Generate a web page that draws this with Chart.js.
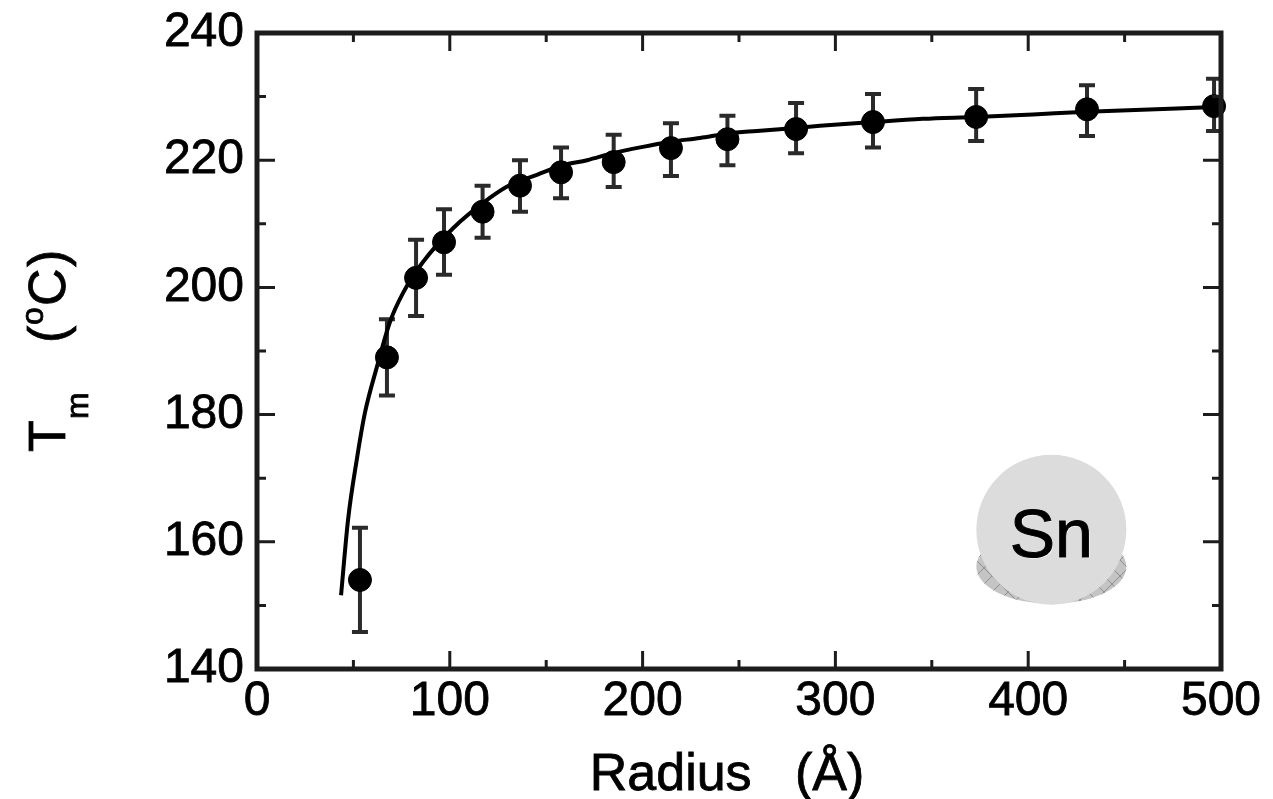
<!DOCTYPE html>
<html>
<head>
<meta charset="utf-8">
<title>Sn melting temperature vs radius</title>
<script src="https://cdn.jsdelivr.net/npm/chart.js@4"></script>
<style>
    html, body { margin: 0; padding: 0; background: #fff; }
    canvas { display: block; }
</style>
</head>
<body>
<canvas id="chart" width="1273" height="799"></canvas>
<script>
// Data
const radius = [53.4, 67.4, 82.5, 97, 117, 136.4, 157.7, 185, 214.7, 244, 279.6, 319.5, 373, 430.5, 496.4];
const tm = [154, 189, 201.5, 207.1, 211.9, 216, 218.1, 219.7, 221.9, 223.3, 224.9, 226, 226.8, 228, 228.5];
const errHigh = [162.2, 195, 207.5, 212.3, 216, 220, 222, 224, 225.8, 227, 229, 230.4, 231.2, 231.8, 232.8];
const errLow = [145.8, 183, 195.5, 202, 207.8, 211.9, 214, 215.8, 217.5, 219.2, 221.1, 222, 223, 223.8, 224.6];

const fitRadius = [43.6, 47.2, 51.9, 56, 62.2, 69, 75.7, 85.6, 101.7, 120.9, 131.2, 145.2, 158.7, 171.2, 184.6, 200.2, 214.7, 229.8, 244.3, 259.3, 280.1, 292, 319.5, 345.4, 373, 402.5, 430.5, 500];
const fitTm = [151.6, 163.4, 173.2, 180.3, 187.5, 194.6, 199.1, 203.8, 209.3, 214.1, 216.1, 217.7, 219.2, 220, 221.1, 222.1, 222.9, 223.5, 224.2, 224.6, 225.1, 225.4, 226, 226.5, 226.8, 227.2, 227.6, 228.4];

const xTicks = [0, 100, 200, 300, 400, 500];
const yTicks = [140, 160, 180, 200, 220, 240];

const xTitle = 'Radius   (Å)';
const insetLabel = 'Sn';
const insetCenter = [412, 161.9];

const FONT = '"Liberation Sans", Arial, sans-serif';
const INK = '#1c1c1c';

// Grey diagonal cross hatch for the droplet's base
function makeHatch(ctx) {
    const tile = document.createElement('canvas');
    tile.width = 16;
    tile.height = 16;
    const t = tile.getContext('2d');
    t.fillStyle = '#c4c4c4';
    t.fillRect(0, 0, 16, 16);
    t.strokeStyle = '#8e8e8e';
    t.lineWidth = 1;
    t.beginPath();
    t.moveTo(0, 0);
    t.lineTo(16, 16);
    t.moveTo(16, 0);
    t.lineTo(0, 16);
    t.stroke();
    return ctx.createPattern(tile, 'repeat');
}

// Inset drawing and error bars, behind the data
const insetPlugin = {
    id: 'inset',
    beforeDatasetsDraw(chart) {
        const { ctx, scales } = chart;
        const { x, y } = scales;
        const cx = x.getPixelForValue(insetCenter[0]);
        const cy = y.getPixelForValue(insetCenter[1]);
        ctx.save();
        ctx.fillStyle = makeHatch(ctx);
        ctx.beginPath();
        ctx.ellipse(cx, cy + 37, 75, 37, 0, 0, Math.PI * 2);
        ctx.fill();
        ctx.fillStyle = '#dcdcdc';
        ctx.beginPath();
        ctx.arc(cx, cy, 75, 0, Math.PI * 2);
        ctx.fill();
        ctx.font = `68px ${FONT}`;
        ctx.textAlign = 'center';
        ctx.textBaseline = 'alphabetic';
        ctx.fillStyle = '#fff';
        ctx.fillText(insetLabel, cx + 1, cy + 28);
        ctx.fillStyle = '#000';
        ctx.strokeStyle = '#000';
        ctx.lineWidth = 1;
        ctx.fillText(insetLabel, cx, cy + 27);
        ctx.strokeText(insetLabel, cx, cy + 27);

        ctx.strokeStyle = '#2a2a2a';
        ctx.lineWidth = 4;
        radius.forEach((r, i) => {
            const px = x.getPixelForValue(r);
            const hi = y.getPixelForValue(errHigh[i]);
            const lo = y.getPixelForValue(errLow[i]);
            ctx.beginPath();
            ctx.moveTo(px, hi);
            ctx.lineTo(px, lo);
            ctx.moveTo(px - 8, hi);
            ctx.lineTo(px + 8, hi);
            ctx.moveTo(px - 8, lo);
            ctx.lineTo(px + 8, lo);
            ctx.stroke();
        });
        ctx.restore();
    }
};

// Frame, inward ticks and the composed axis titles
const framePlugin = {
    id: 'frame',
    afterDatasetsDraw(chart) {
        const { ctx, scales, chartArea: area } = chart;
        const { x, y } = scales;

        ctx.save();
        ctx.strokeStyle = INK;
        ctx.lineWidth = 3;
        x.ticks.forEach(t => {
            const px = x.getPixelForValue(t.value);
            const len = xTicks.includes(t.value) ? 18 : 9;
            ctx.beginPath();
            ctx.moveTo(px, area.bottom);
            ctx.lineTo(px, area.bottom - len);
            ctx.moveTo(px, area.top);
            ctx.lineTo(px, area.top + len);
            ctx.stroke();
        });
        y.ticks.forEach(t => {
            const py = y.getPixelForValue(t.value);
            const len = yTicks.includes(t.value) ? 18 : 9;
            ctx.beginPath();
            ctx.moveTo(area.left, py);
            ctx.lineTo(area.left + len, py);
            ctx.moveTo(area.right, py);
            ctx.lineTo(area.right - len, py);
            ctx.stroke();
        });

        ctx.lineWidth = 5;
        ctx.strokeRect(area.left, area.top, area.right - area.left, area.bottom - area.top);

        ctx.fillStyle = '#000';
        ctx.strokeStyle = '#000';
        ctx.lineWidth = 0.8;
        ctx.textBaseline = 'alphabetic';

        // x title sits left of the plot centre in the original
        ctx.font = `52px ${FONT}`;
        ctx.textAlign = 'center';
        ctx.fillText(xTitle, 727, 790);
        ctx.strokeText(xTitle, 727, 790);

        // y title has a subscript and a superscript, so it goes piece by piece
        ctx.translate(65, 452);
        ctx.rotate(-Math.PI / 2);
        ctx.textAlign = 'left';
        const pieces = [
            ['T', 0, 0, 52], ['m', 33, 23, 32], ['(', 109, 0, 52],
            ['o', 127, -22, 32], ['C', 146, 0, 52], [')', 185, 0, 52]
        ];
        pieces.forEach(([text, dx, dy, size]) => {
            ctx.font = `${size}px ${FONT}`;
            ctx.fillText(text, dx, dy);
            ctx.strokeText(text, dx, dy);
        });
        ctx.restore();
    }
};

new Chart(document.getElementById('chart'), {
    type: 'scatter',
    data: {
        datasets: [
            {
                data: fitRadius.map((r, i) => ({ x: r, y: fitTm[i] })),
                showLine: true,
                borderColor: '#000',
                borderWidth: 4,
                pointRadius: 0,
                cubicInterpolationMode: 'monotone',
                clip: false
            },
            {
                data: radius.map((r, i) => ({ x: r, y: tm[i] })),
                showLine: false,
                backgroundColor: '#000',
                borderColor: '#000',
                pointRadius: 11.5,
                clip: false
            }
        ]
    },
    options: {
        responsive: false,
        animation: false,
        layout: { autoPadding: false, padding: { top: 33, right: 52, left: 0, bottom: 0 } },
        plugins: {
            legend: { display: false },
            tooltip: { enabled: false }
        },
        scales: {
            x: {
                type: 'linear',
                min: 0,
                max: 500,
                afterFit(scale) {
                    scale.height = 130;
                    scale.paddingLeft = 0;
                    scale.paddingRight = 0;
                },
                grid: { display: false, drawTicks: false },
                border: { display: false },
                ticks: {
                    stepSize: 50,
                    autoSkip: false,
                    maxRotation: 0,
                    padding: 4,
                    color: '#000',
                    textStrokeColor: '#000',
                    textStrokeWidth: 0.8,
                    font: { family: FONT, size: 48 },
                    callback: v => (xTicks.includes(v) ? String(v) : '')
                }
            },
            y: {
                type: 'linear',
                min: 140,
                max: 240,
                afterFit(scale) {
                    scale.width = 257;
                    scale.paddingTop = 0;
                    scale.paddingBottom = 0;
                },
                grid: { display: false, drawTicks: false },
                border: { display: false },
                ticks: {
                    stepSize: 10,
                    autoSkip: false,
                    padding: 13,
                    color: '#000',
                    textStrokeColor: '#000',
                    textStrokeWidth: 0.8,
                    font: { family: FONT, size: 48 },
                    callback: v => (yTicks.includes(v) ? String(v) : '')
                }
            }
        }
    },
    plugins: [insetPlugin, framePlugin]
});
</script>
</body>
</html>
